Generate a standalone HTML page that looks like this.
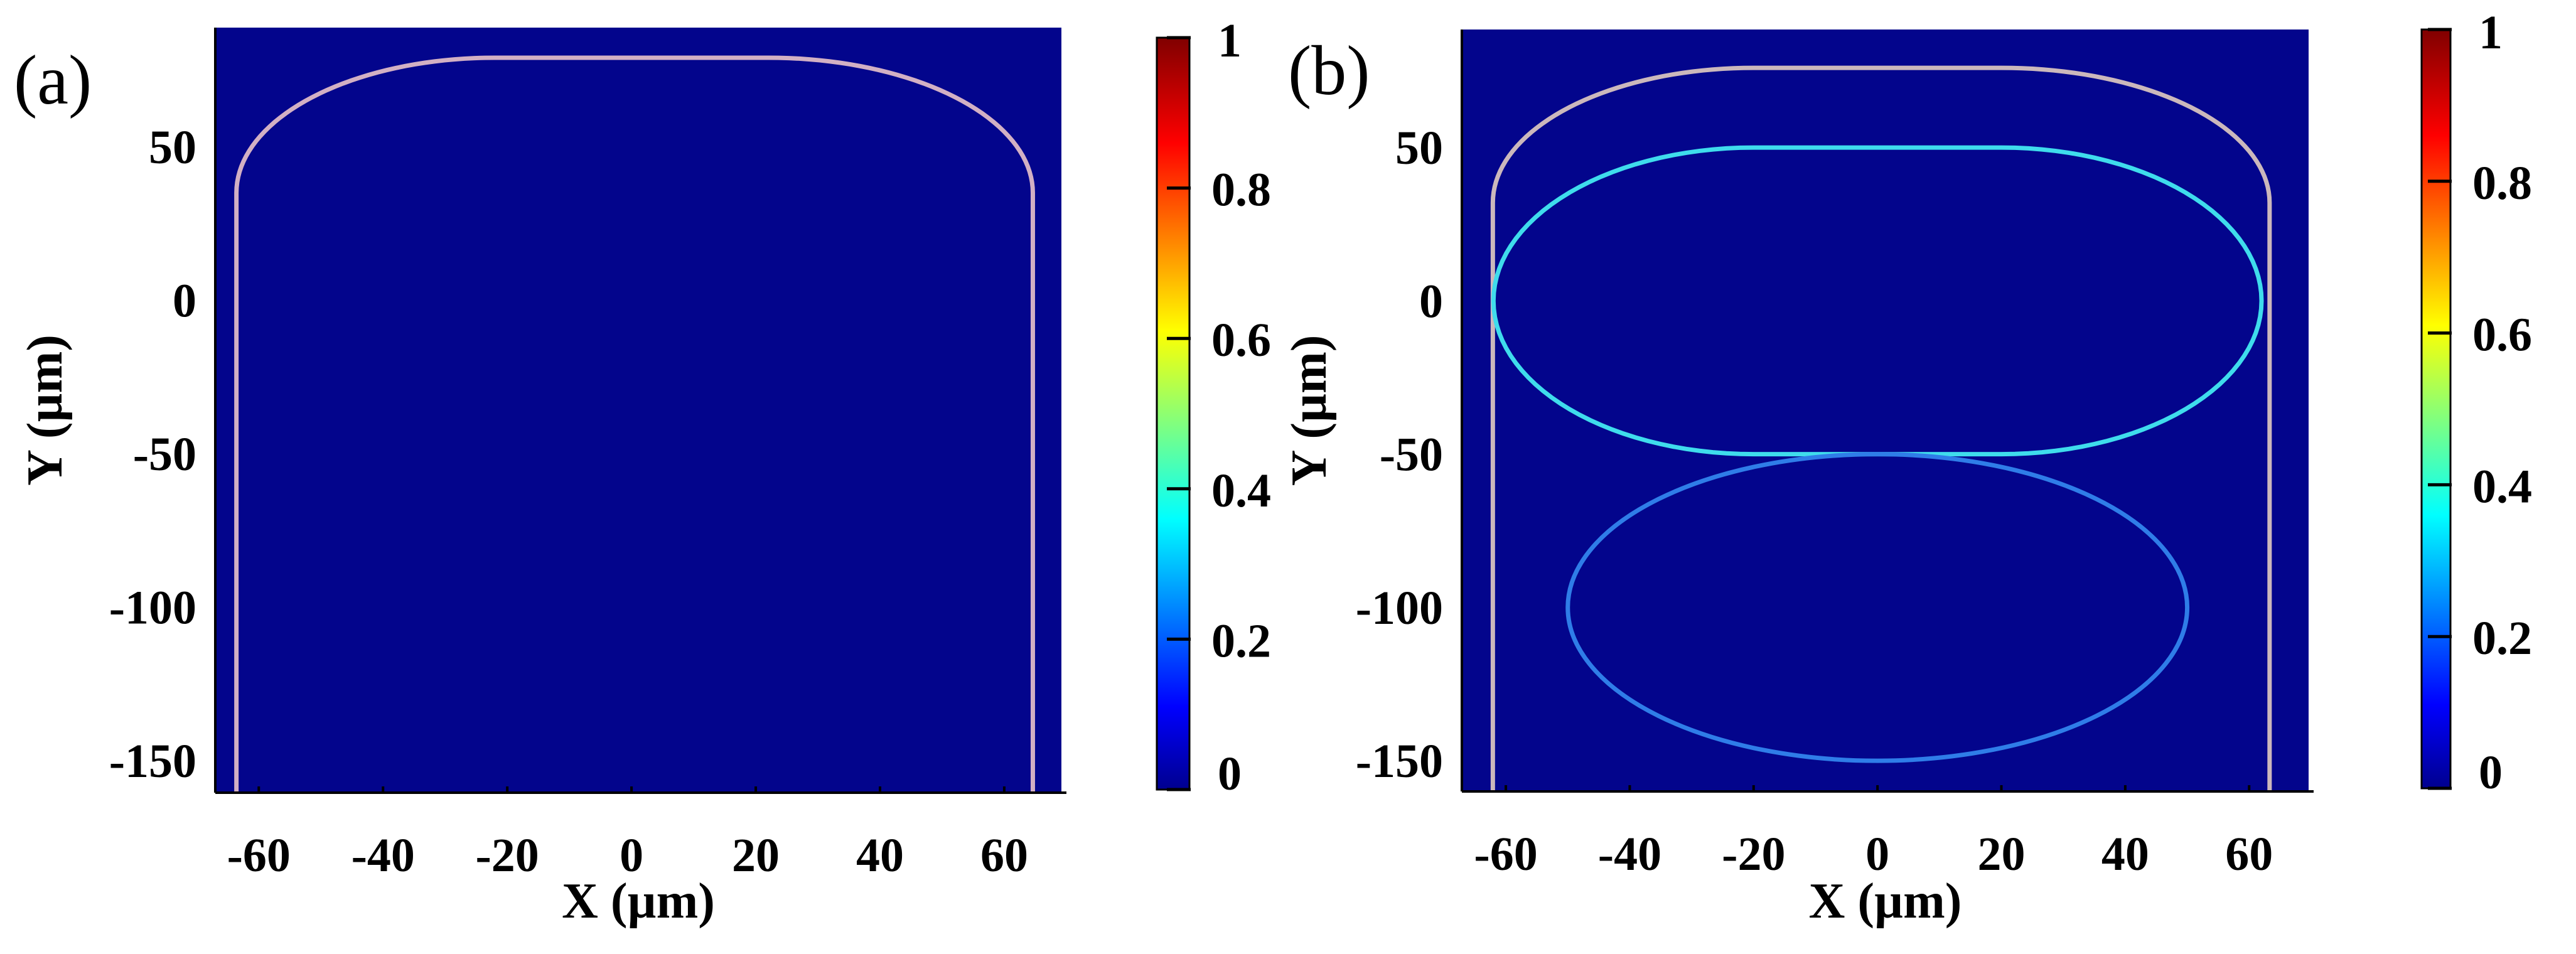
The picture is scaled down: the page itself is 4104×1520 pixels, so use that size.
<!DOCTYPE html>
<html><head><meta charset="utf-8"><style>
html,body{margin:0;padding:0;background:#fff;}
svg{display:block;}
text{font-family:"Liberation Serif",serif;font-weight:bold;fill:#000;}
</style></head><body>
<svg id="fig" width="4104" height="1520" viewBox="0 0 4104 1520" xmlns="http://www.w3.org/2000/svg">
<defs>
<linearGradient id="jet" x1="0" y1="1" x2="0" y2="0">
<stop offset="0" stop-color="#00008f"/><stop offset="0.11" stop-color="#0000ff"/>
<stop offset="0.36" stop-color="#00ffff"/><stop offset="0.61" stop-color="#ffff00"/>
<stop offset="0.86" stop-color="#ff0000"/><stop offset="1" stop-color="#800000"/>
</linearGradient>
</defs>
</svg>
<script>
const xTicks=[-60,-40,-20,0,20,40,60];
const yTicks=[50,0,-50,-100,-150];
const cbTicks=[0,0.2,0.4,0.6,0.8,1];
const cbLabels=["0","0.2","0.4","0.6","0.8","1"];
// shape parameters [xLeft, xRight, yStraightTop, yFlatTop, flatHalfWidth]
const outerA=[-63.6,64.6,35,79,22];
const outerB=[-62.1,63.3,32,76,20];
// stadium: [cx, cy, flatHalf, rx, ry]
const innerB=[0,0,20,42,50];
// ellipse: [cx, cy, rx, ry]
const lowerB=[0,-100,50,50];
const NS="http://www.w3.org/2000/svg";
const svg=document.getElementById('fig');
function mk(tag,attrs,parent){const e=document.createElementNS(NS,tag);for(const k in attrs)e.setAttribute(k,attrs[k]);(parent||svg).appendChild(e);return e;}
function panel(P){
  const g=mk('g',{});
  
  
  const sx=v=>P.L+(v-P.x0)/(P.x1-P.x0)*(P.R-P.L);
  const sy=v=>P.B-(v-P.y0)/(P.y1-P.y0)*(P.B-P.T);
  const bg=mk('rect',{x:P.L,y:P.T,width:P.R-P.L,height:P.B-P.T,fill:'#03058c'},g);
  
  
  // outer waveguide
  const o=P.outer; const rx=(o[1]-o[0])/2-o[4]; const ry=o[3]-o[2];
  const cxL=-o[4], cxR=o[4];
  let pts=[[o[0],P.y0]];
  for(let i=0;i<=40;i++){const t=Math.PI-i/40*Math.PI/2;pts.push([cxL+( cxL-o[0])*Math.cos(t),o[2]+ry*Math.sin(t)]);}
  const rxR=o[1]-cxR;
  for(let i=0;i<=40;i++){const t=Math.PI/2-i/40*Math.PI/2;pts.push([cxR+rxR*Math.cos(t),o[2]+ry*Math.sin(t)]);}
  pts.push([o[1],P.y0]);
  const op=mk('polyline',{points:pts.map(p=>sx(p[0])+','+sy(p[1])).join(' '),fill:'none',stroke:P.outerColor,'stroke-width':7},g);
  
  
  if(P.inner){
    const s=P.inner; let q=[];
    for(let i=0;i<=60;i++){const t=-Math.PI/2+i/60*Math.PI;q.push([s[0]+s[2]+s[3]*Math.cos(t),s[1]+s[4]*Math.sin(t)]);}
    for(let i=0;i<=60;i++){const t=Math.PI/2+i/60*Math.PI;q.push([s[0]-s[2]+s[3]*Math.cos(t),s[1]+s[4]*Math.sin(t)]);}
    const ip=mk('polygon',{points:q.map(p=>sx(p[0])+','+sy(p[1])).join(' '),fill:'none',stroke:'#3fdcec','stroke-width':7},g);
    
    
    const e=P.lower;
    const el=mk('ellipse',{cx:sx(e[0]),cy:sy(e[1]),rx:sx(e[0]+e[2])-sx(e[0]),ry:sy(e[1])-sy(e[1]+e[3]),fill:'none',stroke:'#2f7de8','stroke-width':7},g);
    
    
  }
  mk('line',{x1:P.L,y1:P.B,x2:P.R+8,y2:P.B,stroke:'#000','stroke-width':4},g);
  mk('line',{x1:P.L,y1:P.T,x2:P.L,y2:P.B,stroke:'#000','stroke-width':4},g);
  xTicks.forEach(v=>{
    mk('line',{x1:sx(v),y1:P.B,x2:sx(v),y2:P.B-10,stroke:'#000','stroke-width':4},g);
    const t=mk('text',{x:sx(v),y:P.B+125,'text-anchor':'middle','font-size':76},g);t.textContent=v;
    
    
  });
  yTicks.forEach(v=>{
    const t=mk('text',{x:P.L-30,y:sy(v)+26,'text-anchor':'end','font-size':76},g);t.textContent=v;
    
    
  });
  const xt=mk('text',{x:(P.L+P.R)/2,y:1462,'text-anchor':'middle','font-size':80},g);xt.textContent='X (µm)';
  
  
  const yt=mk('text',{x:0,y:0,'text-anchor':'middle','font-size':80,transform:`translate(${P.yTitleX},${(P.T+P.B)/2}) rotate(-90)`},g);yt.textContent='Y (µm)';
  
  
  const lab=mk('text',{x:P.labX,y:P.labY,'font-size':112,'font-weight':'normal',style:'font-weight:normal'},g);lab.textContent='('+P.id+')';
  
  
  // colorbar
  const cb=mk('rect',{x:P.cbL,y:P.cbT,width:P.cbW,height:P.cbB-P.cbT,fill:'url(#jet)',stroke:'#000','stroke-width':3},g);
  
  
  const cy=v=>P.cbB-v*(P.cbB-P.cbT);
  cbTicks.forEach((v,i)=>{
    mk('line',{x1:P.cbL+P.cbW-36,y1:cy(v),x2:P.cbL+P.cbW+2,y2:cy(v),stroke:'#000','stroke-width':5},g);
    const t=mk('text',{x:P.cbL+P.cbW+(i===0||i===5?45:35),y:cy(v)+(i===0?0:i===5?30:28),'font-size':76},g);t.textContent=cbLabels[i];
    
    
  });
}
panel({id:'a',L:343,R:1691,T:44,B:1263,x0:-67,x1:69.2,y0:-160.4,y1:88.8,outer:outerA,outerColor:'#d2b0c4',
  cbL:1843,cbW:52,cbT:60,cbB:1258,yTitleX:98,labX:22,labY:165});
panel({id:'b',L:2329,R:3678,T:47,B:1261,x0:-67.1,x1:69.6,y0:-160,y1:88.5,outer:outerB,outerColor:'#cbb8bc',inner:innerB,lower:lowerB,
  cbL:3858,cbW:46,cbT:47,cbB:1256,yTitleX:2112,labX:2052,labY:150});
</script>
</body></html>
